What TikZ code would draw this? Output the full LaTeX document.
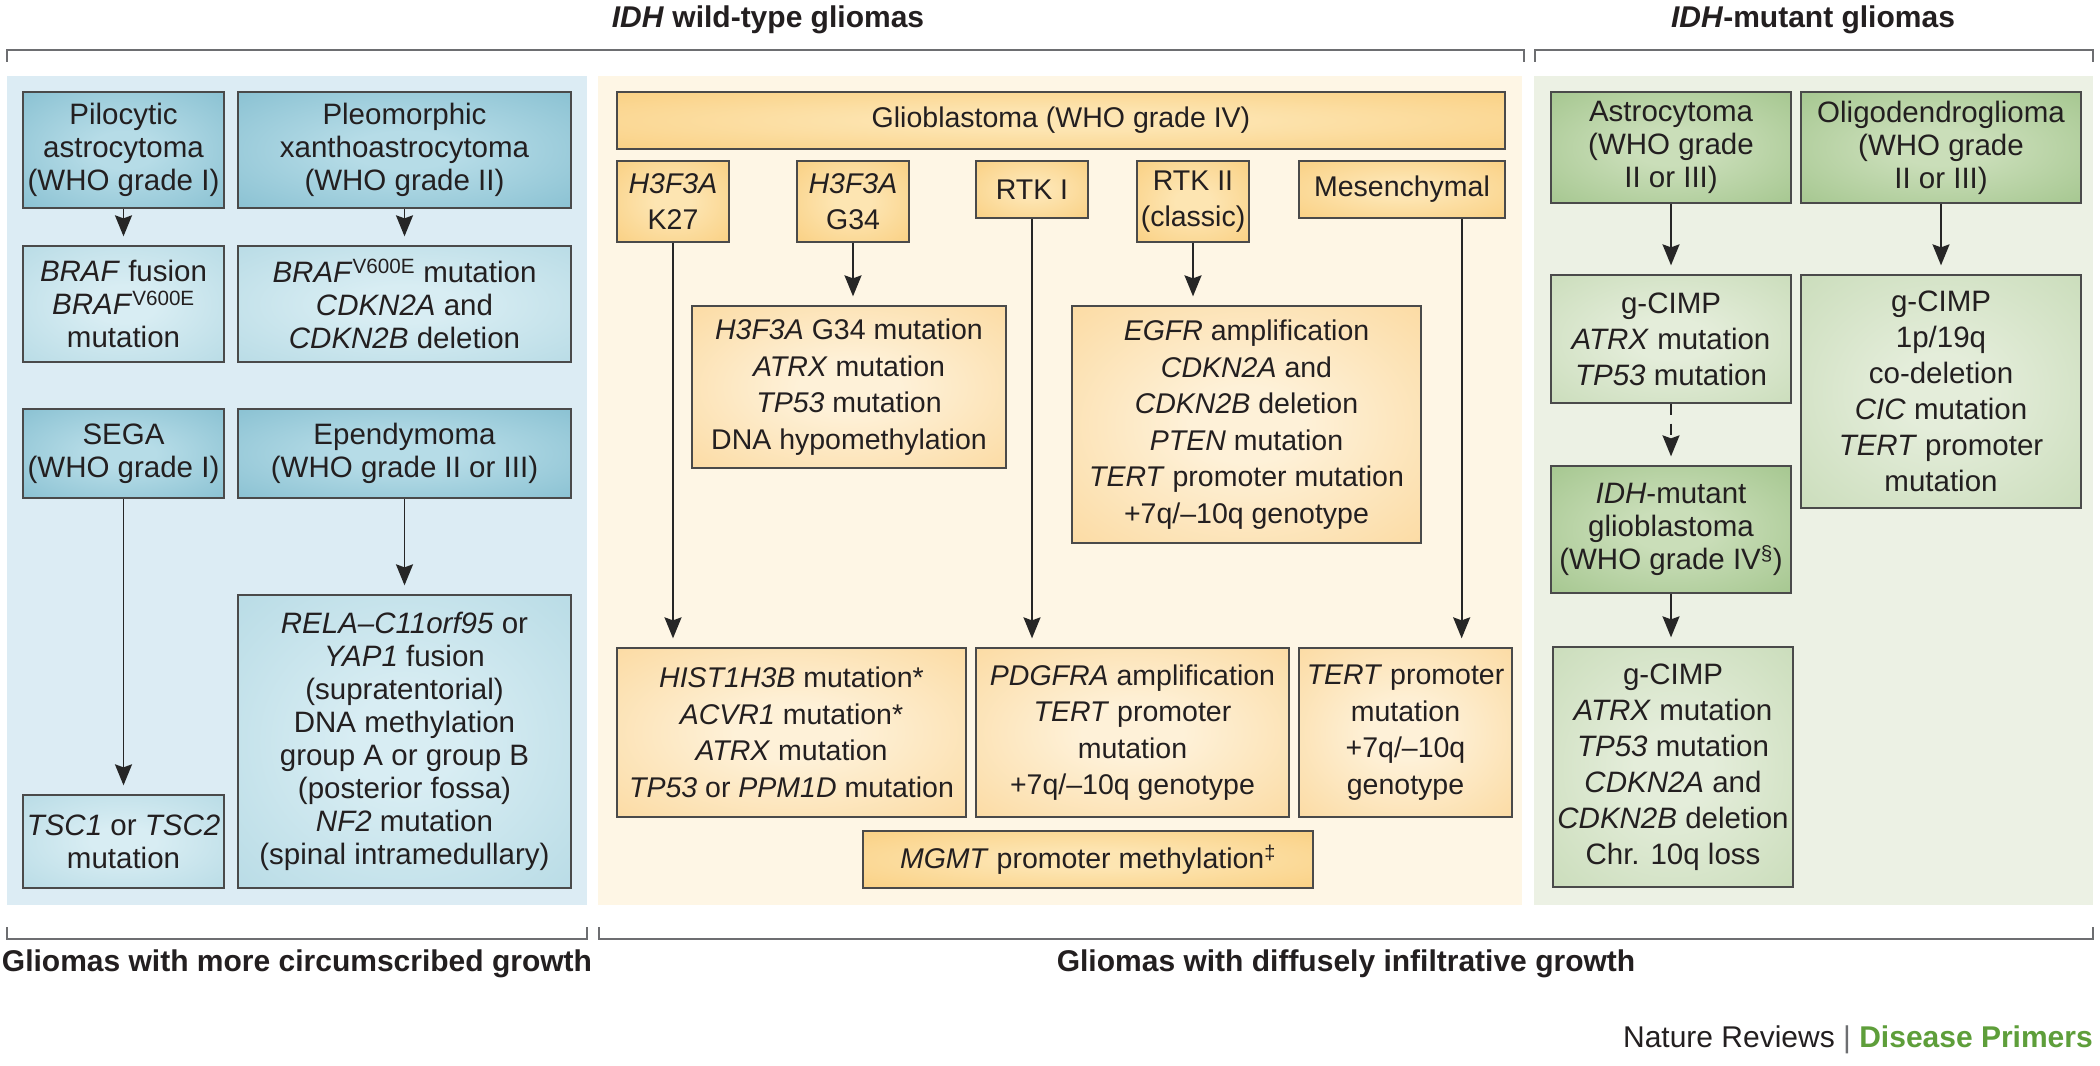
\documentclass[tikz,border=0pt]{standalone}
\usepackage{fontspec}
\setmainfont{Liberation Sans}
\usetikzlibrary{arrows.meta,calc}
\definecolor{ink}{HTML}{231F20}
\definecolor{boxline}{HTML}{4A4A4A}
\definecolor{brkcol}{HTML}{6D6E71}
\definecolor{arrcol}{HTML}{262626}
\definecolor{dpgreen}{HTML}{5E9E3A}
\definecolor{bluebg}{HTML}{DCECF4}
\definecolor{bhO}{HTML}{74B4C8}
\definecolor{bhI}{HTML}{B6DCE7}
\definecolor{bdO}{HTML}{A9D3DF}
\definecolor{bdI}{HTML}{D8EDF3}
\definecolor{yelbg}{HTML}{FEF6E5}
\definecolor{yhO}{HTML}{F8C66C}
\definecolor{yhI}{HTML}{FDE5B2}
\definecolor{ydO}{HTML}{FAD089}
\definecolor{ydI}{HTML}{FEF1D8}
\definecolor{grnbg}{HTML}{ECF1E4}
\definecolor{ghO}{HTML}{93BB7B}
\definecolor{ghI}{HTML}{CADEB9}
\definecolor{gdO}{HTML}{BED5AC}
\definecolor{gdI}{HTML}{E4EDDA}
\makeatletter
\pgfdeclareradialshading[tikz@radial@inner,tikz@radial@outer]{glow}{\pgfpointorigin}{%
 color(0bp)=(tikz@radial@inner);
 color(8bp)=(tikz@radial@inner);
 color(50bp)=(tikz@radial@outer);
 color(75bp)=(tikz@radial@outer)}
\makeatother
\newcommand\fblue{\fontsize{29.5}{33}\selectfont}
\newcommand\fyel{\fontsize{28.5}{36.5}\selectfont}
\newcommand\fgrnh{\fontsize{29.5}{33}\selectfont}
\newcommand\fgrnd{\fontsize{29.5}{36}\selectfont}
\newcommand\fttl{\fontsize{30}{36}\selectfont\bfseries}
\tikzset{
 bx/.style={draw=boxline, line width=1.3pt, inner sep=0pt, align=center, text=ink},
 bhead/.style={bx, inner color=bhI, outer color=bhO, shading=glow, font=\fblue},
 bdet/.style={bx, inner color=bdI, outer color=bdO, shading=glow, font=\fblue},
 yhead/.style={bx, inner color=yhI, outer color=yhO, shading=glow, font=\fyel},
 ydet/.style={bx, inner color=ydI, outer color=ydO, shading=glow, font=\fyel},
 ghead/.style={bx, inner color=ghI, outer color=ghO, shading=glow, font=\fgrnh},
 gdet/.style={bx, inner color=gdI, outer color=gdO, shading=glow, font=\fgrnd},
 arr/.style={draw=arrcol, line width=1.9pt, -{Stealth[length=21pt,width=17pt,inset=3pt]}, shorten >=9pt},
 darr/.style={arr, dash pattern=on 11pt off 9pt},
 brk/.style={draw=brkcol, line width=1.6pt},
 ttl/.style={text=ink, font=\fttl, inner sep=0pt}
}
\begin{document}
\begin{tikzpicture}[x=1pt,y=-1pt]
\useasboundingbox[fill=white] (0,0) rectangle (2100,1065);
% panels
\fill[bluebg] (7,76) rectangle (587,905);
\fill[yelbg] (598,76) rectangle (1522,905);
\fill[grnbg] (1534,76) rectangle (2093,905);
% brackets
\draw[brk] (7,62) -- (7,50) -- (1524,50) -- (1524,62);
\draw[brk] (1535,62) -- (1535,50) -- (2093,50) -- (2093,62);
\draw[brk] (7,927) -- (7,939) -- (587,939) -- (587,927);
\draw[brk] (599,927) -- (599,939) -- (2093,939) -- (2093,927);
% titles
\node[ttl] (t1) at (768,20) {\textit{IDH} wild-type gliomas};
\node[ttl] (t2) at (1813,20) {\textit{IDH}-mutant gliomas};
\node[ttl] (b1) at (297,964) {Gliomas with more circumscribed growth};
\node[ttl] (b2) at (1346,964) {Gliomas with diffusely infiltrative growth};
\node[anchor=base east, inner sep=0pt, text=ink, font=\fontsize{30}{36}\selectfont] (nr) at (2093,1047) {Nature Reviews \textcolor{brkcol}{|} \textcolor{dpgreen}{\bfseries Disease Primers}};
% blue panel
\node[bhead, minimum width=201pt, minimum height=116pt] (pilo) at (123.5,150) {Pilocytic\\astrocytoma\\(WHO grade I)};
\node[bhead, minimum width=333pt, minimum height=116pt] (pleo) at (404.5,150) {Pleomorphic\\xanthoastrocytoma\\(WHO grade II)};
\node[bdet, minimum width=201pt, minimum height=116pt] (braf1) at (123.5,304) {\textit{BRAF} fusion\\\textit{BRAF}\textsuperscript{V600E}\\mutation};
\node[bdet, minimum width=333pt, minimum height=116pt] (braf2) at (404.5,304) {\textit{BRAF}\textsuperscript{V600E} mutation\\\textit{CDKN2A} and\\\textit{CDKN2B} deletion};
\node[bhead, minimum width=201pt, minimum height=89pt] (sega) at (123.5,453.5) {SEGA\\(WHO grade I)};
\node[bhead, minimum width=333pt, minimum height=89pt] (epen) at (404.5,453.5) {Ependymoma\\(WHO grade II or III)};
\node[bdet, minimum width=201pt, minimum height=93pt] (tsc) at (123.5,841.5) {\textit{TSC1} or \textit{TSC2}\\mutation};
\node[bdet, minimum width=333pt, minimum height=293pt] (rela) at (404.5,741.5) {\textit{RELA–C11orf95} or\\\textit{YAP1} fusion\\(supratentorial)\\DNA methylation\\group A or group B\\(posterior fossa)\\\textit{NF2} mutation\\(spinal intramedullary)};
\draw[arr] (pilo) -- (braf1);
\draw[arr] (pleo) -- (braf2);
\draw[arr] (sega) -- (tsc);
\draw[arr] (epen) -- (rela);
% yellow panel
\node[yhead, minimum width=888pt, minimum height=57pt] (gbm) at (1061,120.5) {Glioblastoma (WHO grade IV)};
\node[yhead, minimum width=112pt, minimum height=81pt] (k27) at (673,201.5) {\textit{H3F3A}\\K27};
\node[yhead, minimum width=112pt, minimum height=81pt] (g34) at (853,201.5) {\textit{H3F3A}\\G34};
\node[yhead, minimum width=112pt, minimum height=57pt] (rtk1) at (1032,189.5) {RTK I};
\node[yhead, minimum width=112pt, minimum height=81pt] (rtk2) at (1193,201.5) {RTK II\\(classic)};
\node[yhead, minimum width=206pt, minimum height=57pt] (mes) at (1402,189.5) {Mesenchymal};
\node[ydet, minimum width=314pt, minimum height=162pt] (g34d) at (849,387) {\textit{H3F3A} G34 mutation\\\textit{ATRX} mutation\\\textit{TP53} mutation\\DNA hypomethylation};
\node[ydet, minimum width=349pt, minimum height=237pt] (rtk2d) at (1246.5,424.5) {\textit{EGFR} amplification\\\textit{CDKN2A} and\\\textit{CDKN2B} deletion\\\textit{PTEN} mutation\\\textit{TERT} promoter mutation\\+7q/–10q genotype};
\node[ydet, minimum width=349pt, minimum height=169pt] (hist) at (791.5,732.5) {\textit{HIST1H3B} mutation*\\\textit{ACVR1} mutation*\\\textit{ATRX} mutation\\\textit{TP53} or \textit{PPM1D} mutation};
\node[ydet, minimum width=313pt, minimum height=169pt] (pdgf) at (1132.5,732.5) {\textit{PDGFRA} amplification\\\textit{TERT} promoter\\mutation\\+7q/–10q genotype};
\node[ydet, minimum width=213pt, minimum height=169pt] (tert) at (1405.5,732.5) {\textit{TERT} promoter\\mutation\\+7q/–10q\\genotype};
\node[yhead, minimum width=450pt, minimum height=57pt] (mgmt) at (1088,859.5) {\textit{MGMT} promoter methylation\textsuperscript{‡}};
\draw[arr] (g34.south) -- (g34.south |- g34d.north);
\draw[arr] (rtk2.south) -- (rtk2.south |- rtk2d.north);
\draw[arr] (k27.south) -- (k27.south |- hist.north);
\draw[arr] (rtk1.south) -- (rtk1.south |- pdgf.north);
\draw[arr] ([xshift=-44pt]mes.south east) -- ([xshift=-44pt]mes.south east |- tert.north);
% green panel
\node[ghead, minimum width=240pt, minimum height=111pt] (astro) at (1671,147.5) {Astrocytoma\\(WHO grade\\II or III)};
\node[ghead, minimum width=280pt, minimum height=111pt] (oligo) at (1941,147.5) {Oligodendroglioma\\(WHO grade\\II or III)};
\node[gdet, minimum width=240pt, minimum height=128pt] (gc1) at (1671,339) {g-CIMP\\\textit{ATRX} mutation\\\textit{TP53} mutation};
\node[gdet, minimum width=280pt, minimum height=233pt] (gc2) at (1941,391.5) {g-CIMP\\1p/19q\\co-deletion\\\textit{CIC} mutation\\\textit{TERT} promoter\\mutation};
\node[ghead, minimum width=240pt, minimum height=127pt] (idhg) at (1671,529.5) {\textit{IDH}-mutant\\glioblastoma\\(WHO grade IV\textsuperscript{§})};
\node[gdet, minimum width=240pt, minimum height=240pt] (gc3) at (1673,767) {g-CIMP\\\textit{ATRX} mutation\\\textit{TP53} mutation\\\textit{CDKN2A} and\\\textit{CDKN2B} deletion\\Chr. 10q loss};
\draw[arr] (astro) -- (gc1);
\draw[arr] (oligo) -- (gc2);
\draw[darr] (gc1) -- (idhg);
\draw[arr] (idhg.south) -- (idhg.south |- gc3.north);
\end{tikzpicture}
\end{document}
